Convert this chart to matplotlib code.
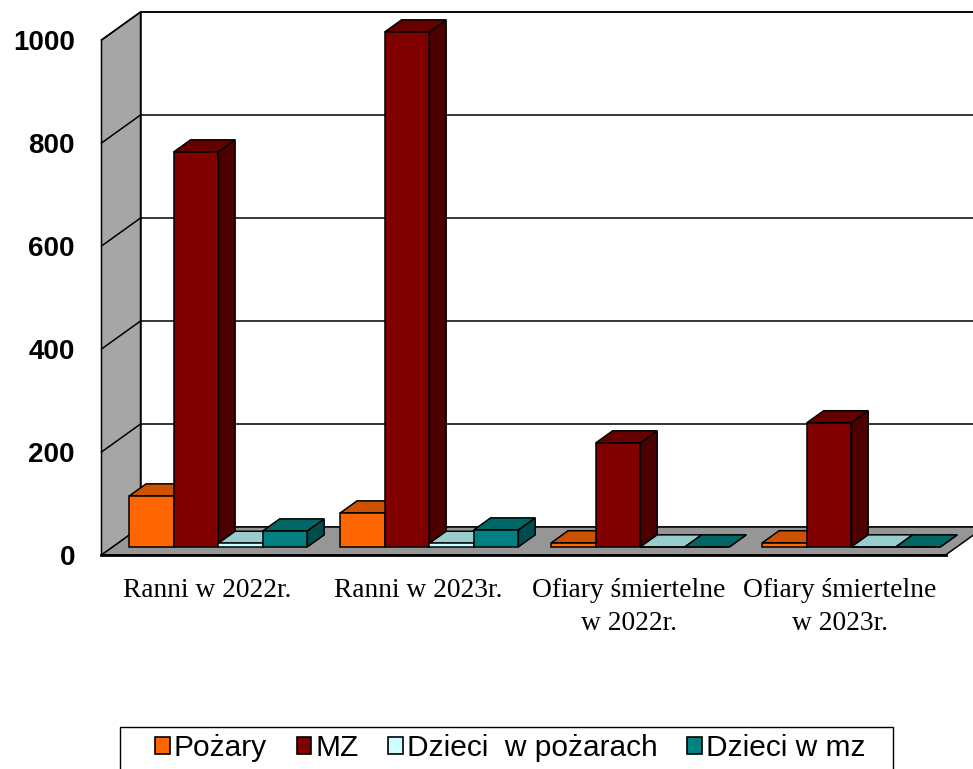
import matplotlib.pyplot as plt
from matplotlib.patches import Polygon, Patch, Rectangle

# data
categories = ['Ranni w 2022r.', 'Ranni w 2023r.',
              'Ofiary śmiertelne\nw 2022r.', 'Ofiary śmiertelne\nw 2023r.']
series_names = ['Pożary', 'MZ', 'Dzieci  w pożarach', 'Dzieci w mz']
pozary = [99, 66, 8, 8]
mz = [767, 1000, 202, 241]
dzieci_poz = [7, 7, 0, 0]
dzieci_mz = [31, 33, 0, 0]
yticks = [0, 200, 400, 600, 800, 1000]

series = [pozary, mz, dzieci_poz, dzieci_mz]
# (front, top, side) colours, Excel-like 3D shading
colors = [('#FF6600', '#CC5200', '#993D00'),
          ('#800000', '#660000', '#4D0000'),
          ('#CCFFFF', '#99CCCC', '#7AA3A3'),
          ('#008080', '#006666', '#004D4D')]
legend_colors = ['#FF6600', '#800000', '#CCFFFF', '#008080']

# oblique projection: full depth shift in data units
DX = 0.185
DY = 54.4
d0, d1 = 0.29, 0.72   # depth band for the bars
bw = 0.211            # bar width

fig = plt.figure(figsize=(9.73, 7.69), dpi=100)
ax = fig.add_axes([0, 0, 1, 1])
ax.set_xlim(-0.981, 3.630)
ax.set_ylim(-415.5, 1077.7)
ax.axis('off')

lw = 1.1
x_left, x_right = -0.5, 3.5
ymax = 1000

# left side wall
ax.add_patch(Polygon([(x_left, 0), (x_left, ymax), (x_left + DX, ymax + DY),
                      (x_left + DX, DY)], closed=True, facecolor='#A6A6A6',
                     edgecolor='black', lw=lw, zorder=1))
# back wall
ax.add_patch(Polygon([(x_left + DX, DY), (x_left + DX, ymax + DY),
                      (x_right + DX + 1, ymax + DY), (x_right + DX + 1, DY)],
                     closed=True, facecolor='white', edgecolor='black', lw=lw, zorder=1))
# gridlines on back wall and left wall
for v in yticks[1:]:
    ax.plot([x_left + DX, x_right + DX + 1], [v + DY, v + DY], color='black', lw=lw, zorder=2)
    ax.plot([x_left, x_left + DX], [v, v + DY], color='black', lw=lw, zorder=2)
# floor
ax.add_patch(Polygon([(x_left, 0), (x_right, 0), (x_right + DX, DY),
                      (x_left + DX, DY)], closed=True, facecolor='#969696',
                     edgecolor='black', lw=lw, zorder=3))
ax.plot([x_left, x_right], [0, 0], color='black', lw=2.0, zorder=3)


def box(x0, h, cols):
    f, t, s = cols
    xa, ya = x0 + d0 * DX, d0 * DY
    xb, yb = x0 + d1 * DX, d1 * DY
    ax.add_patch(Polygon([(xa + bw, ya), (xb + bw, yb), (xb + bw, h + yb), (xa + bw, h + ya)],
                         closed=True, facecolor=s, edgecolor='black', lw=lw, zorder=4))
    ax.add_patch(Polygon([(xa, h + ya), (xa + bw, h + ya), (xb + bw, h + yb), (xb, h + yb)],
                         closed=True, facecolor=t, edgecolor='black', lw=lw, zorder=4))
    ax.add_patch(Polygon([(xa, ya), (xa + bw, ya), (xa + bw, h + ya), (xa, h + ya)],
                         closed=True, facecolor=f, edgecolor='black', lw=lw, zorder=4))


for i in range(len(categories)):
    for k, vals in enumerate(series):
        box(i - 2 * bw + k * bw, vals[i], colors[k])

# y tick labels
for v in yticks:
    ax.text(-0.626, v - 6, str(v), ha='right', va='center', fontsize=20,
            fontweight='bold', family='Liberation Sans')

# category labels
for i, c in enumerate(categories):
    ax.text(i, -44, c, ha='center', va='top', fontsize=19.8,
            family='Liberation Serif', linespacing=1.45)

# legend frame (bottom runs off the figure)
fig.add_artist(Rectangle((120 / 973, -0.05), (893 - 120) / 973, 0.05 + 1 - 727 / 769,
                         transform=fig.transFigure, facecolor='white',
                         edgecolor='black', lw=1.0))
handles = [Patch(facecolor=c, edgecolor='black', lw=1.2) for c in legend_colors]
leg = fig.legend(handles, series_names, loc='center left',
                 bbox_to_anchor=(155 / 973, 1 - 748 / 769), ncol=4,
                 prop={'family': 'Liberation Sans', 'size': 21.5},
                 handlelength=0.5, handleheight=0.5, handletextpad=0.12,
                 columnspacing=1.0, borderpad=0, borderaxespad=0,
                 frameon=False)

fig.savefig('out.png', dpi=100)
